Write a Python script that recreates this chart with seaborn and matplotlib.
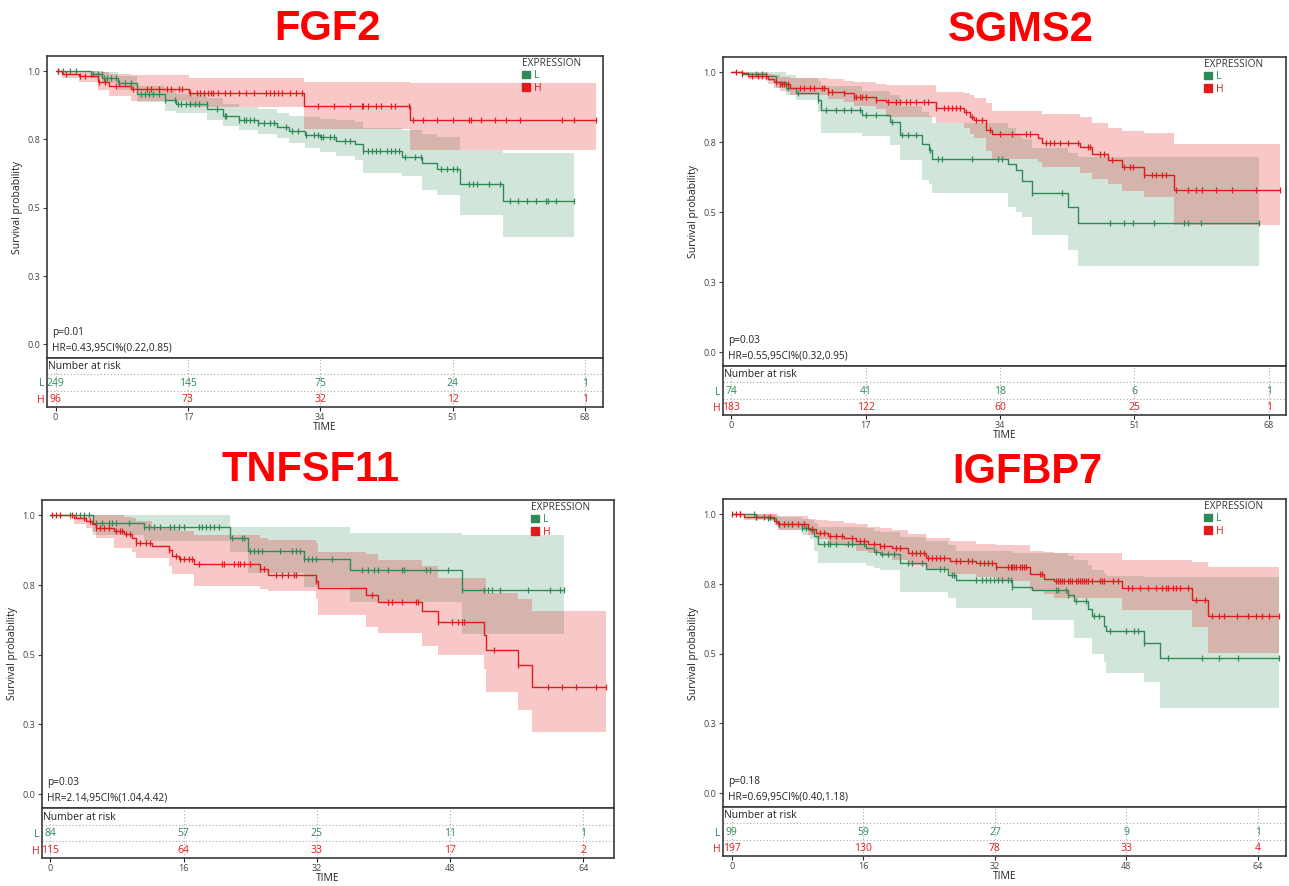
import numpy as np
import matplotlib
matplotlib.use("Agg")
import matplotlib.pyplot as plt
import matplotlib.transforms as mtransforms
from matplotlib.patches import Patch
import seaborn as sns

# ---------------- FGF2 ----------------
FGF2_L_T = [0, 4.5, 6, 8, 10.5, 14, 15.5, 19.5, 21.5, 23.5, 26, 28.5, 30, 32, 34, 36, 38.5, 39.5, 44.5, 47, 49, 52, 57.5]
FGF2_L_S = [1.0, 0.99, 0.975, 0.955, 0.915, 0.895, 0.88, 0.862, 0.835, 0.822, 0.81, 0.795, 0.78, 0.765, 0.757, 0.745, 0.733, 0.707, 0.686, 0.663, 0.643, 0.585, 0.523]
FGF2_L_LO = [1.0, 0.975, 0.955, 0.93, 0.885, 0.855, 0.845, 0.82, 0.80, 0.785, 0.77, 0.755, 0.735, 0.72, 0.705, 0.69, 0.675, 0.627, 0.615, 0.563, 0.545, 0.472, 0.393]
FGF2_L_HI = [1.0, 1.0, 0.995, 0.98, 0.945, 0.93, 0.915, 0.90, 0.88, 0.87, 0.86, 0.845, 0.835, 0.83, 0.825, 0.82, 0.815, 0.79, 0.785, 0.77, 0.76, 0.71, 0.70]
FGF2_L_CENS = [0.3, 1.0, 1.8, 2.6, 4.5, 4.8, 5.4, 5.9, 6.2, 6.6, 7.1, 7.7, 8.2, 8.9, 9.7, 11.0, 11.5, 12.0, 12.5, 13.3,
               14.0, 15.3, 15.7, 16.1, 16.8, 17.3, 17.9, 18.4, 19.4, 20.7, 21.7, 21.9, 23.5, 24.2, 24.5, 25.0, 25.5,
               26.0, 26.8, 27.6, 28.1, 29.6, 30.4, 31.1, 32.1, 33.2, 33.7, 34.1, 34.4, 35.2, 35.7, 37.2, 37.8, 39.5,
               40.1, 40.6, 41.1, 41.6, 42.6, 43.1, 43.6, 44.1, 44.9, 46.2, 46.9, 49.5, 50.3, 51.0, 51.5, 53.1, 53.6,
               54.1, 55.6, 57.1, 58.4, 59.4, 60.5, 61.7, 63.0, 63.3, 64.3, 66.6]
FGF2_H_T = [0, 0.8, 3, 5.4, 6.9, 9.7, 17.1, 31.9, 45.5]
FGF2_H_S = [1.0, 0.99, 0.98, 0.96, 0.945, 0.935, 0.921, 0.871, 0.822]
FGF2_H_LO = [1.0, 0.975, 0.96, 0.93, 0.91, 0.89, 0.87, 0.789, 0.71]
FGF2_H_HI = [1.0, 1.0, 1.0, 0.995, 0.99, 0.985, 0.975, 0.96, 0.955]
FGF2_H_CENS = [0.3, 1.3, 3.1, 3.8, 5.6, 6.4, 7.7, 9.9, 11.7, 12.2, 13.3, 14.3, 14.8, 15.8, 16.3, 17.3, 18.1, 18.6,
               19.1, 19.6, 19.9, 20.2, 20.9, 21.7, 22.4, 23.5, 24.5, 25.5, 27.0, 27.6, 28.1, 28.6, 29.1, 30.1, 30.9,
               31.6, 33.7, 35.7, 37.8, 39.3, 39.5, 40.1, 41.1, 41.8, 43.1, 43.6, 45.4, 45.9, 47.2, 49.0, 51.0, 53.1,
               53.3, 54.6, 56.4, 57.9, 59.7, 65.0, 66.6, 69.4]
FGF2_TICKS = [0, 17, 34, 51, 68]
FGF2_RISK_L = [249, 145, 75, 24, 1]
FGF2_RISK_H = [96, 73, 32, 12, 1]

# ---------------- SGMS2 ----------------
SGMS2_L_T = [0, 1.4, 4.4, 5.7, 6.9, 8.2, 11.0, 11.4, 16.5, 20.1, 21.3, 24.1, 25.0, 25.4, 35.0, 36.0, 36.8, 38.1, 42.6, 43.9]
SGMS2_L_S = [1.0, 0.995, 0.987, 0.965, 0.943, 0.925, 0.903, 0.865, 0.847, 0.823, 0.776, 0.745, 0.722, 0.692, 0.672, 0.65, 0.611, 0.567, 0.52, 0.463]
SGMS2_L_LO = [1.0, 0.99, 0.97, 0.943, 0.92, 0.90, 0.86, 0.784, 0.772, 0.74, 0.686, 0.615, 0.60, 0.567, 0.519, 0.50, 0.483, 0.418, 0.364, 0.307]
SGMS2_L_HI = [1.0, 1.0, 1.0, 1.0, 0.99, 0.98, 0.97, 0.95, 0.935, 0.92, 0.88, 0.86, 0.845, 0.82, 0.80, 0.78, 0.76, 0.73, 0.71, 0.698]
SGMS2_L_CENS = [1.4, 3.1, 3.9, 4.4, 7.2, 8.5, 11.0, 12.0, 13.3, 14.3, 15.2, 16.3, 17.1, 18.3, 20.3, 21.6, 22.4, 23.4,
                25.1, 26.2, 26.7, 30.5, 33.8, 34.3, 38.1, 41.9, 47.9, 49.7, 50.9, 53.5, 57.3, 57.8, 59.5, 66.8]
SGMS2_H_T = [0, 1.4, 2.1, 4.7, 5.4, 6.2, 7.4, 12.2, 14.3, 15.5, 18.3, 19.6, 25.9, 29.5, 30.2, 30.7, 32.2, 33.0, 38.8,
             39.3, 44.1, 45.6, 47.7, 49.4, 52.2, 56.0]
SGMS2_H_S = [1.0, 0.996, 0.988, 0.978, 0.964, 0.957, 0.943, 0.931, 0.925, 0.913, 0.903, 0.893, 0.871, 0.859, 0.841,
             0.829, 0.794, 0.778, 0.764, 0.749, 0.732, 0.707, 0.687, 0.661, 0.632, 0.581]
SGMS2_H_LO = [1.0, 0.99, 0.975, 0.96, 0.945, 0.935, 0.92, 0.905, 0.895, 0.88, 0.87, 0.84, 0.82, 0.80, 0.78, 0.765,
              0.72, 0.69, 0.68, 0.66, 0.64, 0.62, 0.60, 0.575, 0.555, 0.456]
SGMS2_H_HI = [1.0, 1.0, 1.0, 0.995, 0.99, 0.985, 0.98, 0.975, 0.97, 0.965, 0.96, 0.955, 0.93, 0.925, 0.92, 0.91,
              0.89, 0.862, 0.862, 0.85, 0.84, 0.82, 0.80, 0.79, 0.785, 0.743]
SGMS2_H_CENS = [0.6, 1.4, 2.6, 3.4, 3.9, 4.4, 5.7, 6.2, 6.4, 6.7, 7.2, 8.7, 9.2, 10.0, 10.5, 11.5, 11.7, 12.2, 12.7,
                14.3, 15.5, 15.8, 16.3, 16.5, 17.1, 18.3, 19.8, 20.8, 21.3, 22.1, 22.6, 23.4, 24.4, 24.9, 25.9, 26.9,
                27.4, 27.9, 28.4, 28.9, 29.7, 30.5, 31.0, 31.7, 32.7, 34.0, 35.5, 37.3, 37.8, 39.8, 40.3, 40.8, 41.6,
                42.6, 43.9, 45.1, 45.4, 46.7, 47.2, 48.2, 49.7, 50.5, 50.9, 52.2, 53.2, 53.7, 54.5, 55.0, 56.3, 57.8,
                58.8, 59.6, 61.3, 63.4, 66.4, 69.4]
SGMS2_TICKS = [0, 17, 34, 51, 68]
SGMS2_RISK_L = [74, 41, 18, 6, 1]
SGMS2_RISK_H = [183, 122, 60, 25, 1]

# ---------------- TNFSF11 ----------------
TNFSF11_L_T = [0, 5.1, 11.3, 21.6, 23.8, 30.5, 36.0, 49.4]
TNFSF11_L_S = [1.0, 0.971, 0.959, 0.918, 0.872, 0.842, 0.804, 0.732]
TNFSF11_L_LO = [1.0, 0.93, 0.908, 0.87, 0.792, 0.742, 0.689, 0.576]
TNFSF11_L_HI = [1.0, 1.0, 1.0, 0.958, 0.958, 0.958, 0.937, 0.931]
TNFSF11_L_CENS = [2.4, 3.1, 3.6, 4.1, 4.6, 5.5, 6.2, 7.0, 7.4, 7.9, 9.4, 11.3, 11.8, 12.5, 13.2, 14.4, 14.9, 15.4,
                  16.1, 17.8, 18.2, 18.7, 19.2, 19.7, 20.2, 21.8, 23.0, 23.3, 24.0, 24.5, 25.0, 25.4, 27.6, 29.0,
                  29.5, 30.0, 30.5, 31.0, 31.4, 31.9, 33.8, 37.4, 38.2, 38.9, 39.4, 40.6, 42.2, 42.5, 45.1, 45.6,
                  47.8, 49.4, 52.1, 52.6, 53.0, 54.0, 57.4, 60.0, 61.2, 61.7]
TNFSF11_H_T = [0, 2.9, 4.3, 5.0, 5.5, 7.7, 8.9, 9.8, 10.3, 12.2, 14.2, 14.6, 15.4, 17.3, 25.2, 26.2, 31.9, 32.2,
               37.9, 39.4, 44.6, 46.6, 52.1, 52.3, 56.2, 57.8]
TNFSF11_H_S = [1.0, 0.99, 0.98, 0.968, 0.956, 0.944, 0.932, 0.92, 0.902, 0.89, 0.876, 0.853, 0.842, 0.824, 0.808,
               0.786, 0.763, 0.738, 0.713, 0.689, 0.655, 0.617, 0.571, 0.516, 0.462, 0.383]
TNFSF11_H_LO = [1.0, 0.97, 0.955, 0.94, 0.92, 0.884, 0.884, 0.87, 0.848, 0.848, 0.82, 0.791, 0.791, 0.747, 0.735,
                0.729, 0.70, 0.643, 0.60, 0.579, 0.532, 0.50, 0.45, 0.367, 0.302, 0.221]
TNFSF11_H_HI = [1.0, 1.0, 1.0, 1.0, 1.0, 1.0, 0.995, 0.99, 0.98, 0.956, 0.956, 0.95, 0.945, 0.93, 0.92, 0.91, 0.90,
                0.87, 0.86, 0.84, 0.82, 0.775, 0.774, 0.72, 0.70, 0.657]
TNFSF11_H_CENS = [0.2, 0.7, 1.2, 2.6, 4.1, 4.8, 5.5, 6.0, 6.5, 7.0, 7.9, 8.4, 8.6, 9.1, 9.6, 10.3, 10.8, 11.5, 12.0,
                  14.2, 15.1, 15.6, 16.1, 16.6, 17.0, 17.8, 20.6, 20.9, 22.1, 22.6, 22.8, 23.3, 24.0, 25.2, 25.7,
                  27.1, 27.8, 28.6, 29.3, 29.5, 31.9, 38.6, 40.6, 41.0, 42.2, 43.9, 44.2, 46.6, 48.2, 49.0, 49.4,
                  49.7, 53.3, 56.2, 59.8, 61.4, 63.1, 65.5, 66.7]
TNFSF11_TICKS = [0, 16, 32, 48, 64]
TNFSF11_RISK_L = [84, 57, 25, 11, 1]
TNFSF11_RISK_H = [115, 64, 33, 17, 2]

# ---------------- IGFBP7 ----------------
IGFBP7_L_T = [0, 2.9, 4.4, 5.4, 5.8, 8.5, 9.5, 10.0, 10.5, 16.3, 17.3, 18.0, 20.4, 23.6, 26.3, 27.3, 34.1, 36.5,
              40.9, 41.6, 43.3, 43.8, 45.3, 45.5, 50.1, 52.1]
IGFBP7_L_S = [1.0, 0.992, 0.986, 0.97, 0.964, 0.952, 0.943, 0.922, 0.892, 0.88, 0.865, 0.857, 0.827, 0.805, 0.783,
              0.764, 0.74, 0.728, 0.71, 0.688, 0.66, 0.636, 0.60, 0.582, 0.54, 0.486]
IGFBP7_L_LO = [1.0, 0.985, 0.975, 0.955, 0.945, 0.925, 0.91, 0.87, 0.827, 0.815, 0.806, 0.80, 0.72, 0.72, 0.70,
               0.663, 0.663, 0.62, 0.62, 0.558, 0.558, 0.498, 0.47, 0.432, 0.40, 0.305]
IGFBP7_L_HI = [1.0, 1.0, 1.0, 0.995, 0.99, 0.985, 0.98, 0.97, 0.955, 0.95, 0.94, 0.935, 0.92, 0.905, 0.89, 0.87,
               0.86, 0.86, 0.85, 0.835, 0.82, 0.80, 0.79, 0.78, 0.775, 0.775]
IGFBP7_L_CENS = [1.0, 2.7, 2.9, 4.4, 5.8, 6.3, 6.8, 7.3, 8.5, 9.0, 9.7, 11.2, 11.7, 11.9, 12.7, 14.1, 14.6, 16.1,
                 17.5, 18.3, 19.0, 19.7, 21.4, 21.9, 23.1, 25.3, 25.8, 26.8, 27.0, 29.7, 30.4, 30.9, 31.4, 31.9,
                 32.4, 32.9, 33.6, 33.9, 34.1, 39.4, 39.7, 40.7, 40.9, 41.9, 43.1, 44.1, 44.6, 46.0, 47.9, 48.9,
                 49.4, 50.1, 53.1, 57.2, 59.2, 61.6, 66.5]
IGFBP7_H_T = [0, 1.5, 5.1, 5.6, 9.3, 10.2, 11.7, 13.6, 15.1, 16.6, 18.0, 19.5, 21.4, 23.6, 26.5, 29.7, 32.1, 36.3,
              38.0, 39.2, 47.5, 56.0, 57.9]
IGFBP7_H_S = [1.0, 0.99, 0.976, 0.964, 0.946, 0.934, 0.922, 0.916, 0.904, 0.892, 0.888, 0.878, 0.863, 0.845, 0.832,
              0.826, 0.812, 0.787, 0.769, 0.76, 0.736, 0.694, 0.634]
IGFBP7_H_LO = [1.0, 0.98, 0.96, 0.945, 0.925, 0.91, 0.895, 0.885, 0.87, 0.86, 0.85, 0.835, 0.82, 0.80, 0.785, 0.775,
               0.76, 0.73, 0.715, 0.70, 0.657, 0.594, 0.504]
IGFBP7_H_HI = [1.0, 1.0, 1.0, 0.995, 0.985, 0.98, 0.975, 0.97, 0.965, 0.955, 0.95, 0.945, 0.93, 0.915, 0.905, 0.895,
               0.89, 0.87, 0.865, 0.86, 0.835, 0.83, 0.81]
IGFBP7_H_CENS = [0.0, 0.5, 1.0, 2.9, 3.9, 4.6, 5.8, 6.3, 7.3, 8.0, 8.8, 9.7, 10.7, 11.2, 11.9, 12.7, 13.4, 14.6,
                 15.6, 16.1, 17.3, 18.0, 18.5, 20.0, 20.4, 21.9, 22.4, 22.9, 23.4, 23.9, 24.3, 24.8, 25.3, 25.8,
                 27.3, 27.8, 28.7, 29.2, 30.2, 30.7, 31.2, 31.6, 32.1, 33.6, 33.9, 34.1, 34.3, 34.6, 35.1, 35.3,
                 35.5, 35.8, 37.5, 37.7, 39.4, 39.7, 39.9, 40.2, 40.4, 40.9, 41.1, 41.4, 41.9, 42.1, 42.4, 42.6,
                 42.8, 43.1, 43.3, 43.8, 44.8, 45.0, 45.3, 46.3, 47.0, 48.2, 48.7, 49.7, 50.6, 51.6, 52.3, 52.8,
                 53.1, 53.6, 54.0, 54.5, 55.5, 56.5, 57.5, 58.4, 59.2, 59.9, 61.4, 62.8, 63.8, 64.5, 65.3, 66.5]
IGFBP7_TICKS = [0, 16, 32, 48, 64]
IGFBP7_RISK_L = [99, 59, 27, 9, 1]
IGFBP7_RISK_H = [197, 130, 78, 33, 4]

GENES = ["FGF2", "SGMS2", "TNFSF11", "IGFBP7"]
P_TEXT = ["p=0.01", "p=0.03", "p=0.03", "p=0.18"]
HR_TEXT = ["HR=0.43,95CI%(0.22,0.85)", "HR=0.55,95CI%(0.32,0.95)",
           "HR=2.14,95CI%(1.04,4.42)", "HR=0.69,95CI%(0.40,1.18)"]

GREEN = "#2E8B57"
RED = "#E31A1C"
SPINE = "#3a3a3a"

sns.set_style("white")
plt.rcParams["font.family"] = ["Open Sans", "DejaVu Sans"]


def surv_at(times, surv, t):
    idx = np.searchsorted(np.asarray(times), np.asarray(t), side="right") - 1
    return np.asarray(surv)[idx]


def draw_band(ax, t, lo, hi, cens, color, alpha):
    end = max(cens)
    tt = np.append(t, end)
    ax.fill_between(tt, np.append(lo, lo[-1]), np.append(hi, hi[-1]), step="post",
                    color=color, alpha=alpha, lw=0)


def draw_curve(ax, t, s, cens, color):
    end = max(cens)
    tt = np.append(t, end)
    ss = np.append(s, s[-1])
    sns.lineplot(x=tt, y=ss, drawstyle="steps-post", color=color, lw=1.0, ax=ax,
                 estimator=None, sort=False)
    ax.plot(cens, surv_at(t, s, cens), ls="none", marker="|", ms=4.5, mew=0.9, color=color)


def panel(ax, tab, i, xlim, ticks, L, H, risk_l, risk_h):
    draw_band(ax, L[0], L[2], L[3], L[4], GREEN, 0.22)
    draw_band(ax, H[0], H[2], H[3], H[4], RED, 0.24)
    draw_curve(ax, L[0], L[1], L[4], GREEN)
    draw_curve(ax, H[0], H[1], H[4], RED)

    ax.set_xlim(xlim)
    ax.set_ylim(-0.05, 1.055)
    ax.set_xticks([])
    ax.set_yticks([0, 0.25, 0.5, 0.75, 1.0])
    ax.set_yticklabels(["0.0", "0.3", "0.5", "0.8", "1.0"])
    ax.tick_params(axis="y", left=True, length=3, width=0.8, labelsize=6.5, colors="#444", pad=2)
    ax.set_ylabel("Survival probability", fontsize=7.5, color="#222", labelpad=3)
    ax.set_xlabel("")
    for sp in ax.spines.values():
        sp.set_color(SPINE)
        sp.set_linewidth(1.2)

    ax.text(0.009, 0.083, P_TEXT[i], transform=ax.transAxes, fontsize=7.3, color="#222", va="center")
    ax.text(0.009, 0.033, HR_TEXT[i], transform=ax.transAxes, fontsize=7.3, color="#222", va="center")

    leg = ax.legend(handles=[Patch(color=GREEN, label="L"), Patch(color=RED, label="H")],
                    title="EXPRESSION", loc="upper left", bbox_to_anchor=(0.855, 0.995),
                    frameon=False, fontsize=7.5, title_fontsize=7.3, handlelength=0.75,
                    handleheight=0.75, handletextpad=0.4, borderaxespad=0, borderpad=0,
                    labelspacing=0.15, alignment="left")
    leg.get_title().set_color("#333")
    for txt, c in zip(leg.get_texts(), [GREEN, RED]):
        txt.set_color(c)

    # risk table
    tab.set_xlim(xlim)
    tab.set_ylim(0, 3)
    tab.set_xticks(ticks)
    tab.set_xticklabels([str(v) for v in ticks], fontsize=6.5, color="#444")
    tab.tick_params(axis="x", bottom=True, length=3, width=0.8, pad=1)
    tab.set_yticks([1.5, 0.5])
    tab.set_yticklabels(["L", "H"], fontsize=7.5)
    tab.tick_params(axis="y", left=False, length=0, pad=2)
    for lab, c in zip(tab.get_yticklabels(), [GREEN, RED]):
        lab.set_color(c)
    tab.set_xlabel("TIME", fontsize=7.5, color="#222", labelpad=0)
    for y in (1, 2):
        tab.axhline(y, ls=(0, (1, 2)), color="#aaaaaa", lw=0.8)
    for tk in ticks:
        tab.axvline(tk, ls=(0, (1, 2)), color="#aaaaaa", lw=0.8)
    trans = mtransforms.blended_transform_factory(tab.transAxes, tab.transData)
    tab.text(0.002, 2.45, "Number at risk", transform=trans, fontsize=7.5, color="#222",
             ha="left", va="center")
    for tk, nl, nh in zip(ticks, risk_l, risk_h):
        tab.text(tk, 1.45, str(nl), ha="center", va="center", fontsize=7.5, color=GREEN)
        tab.text(tk, 0.45, str(nh), ha="center", va="center", fontsize=7.5, color=RED)
    for sp in tab.spines.values():
        sp.set_color(SPINE)
        sp.set_linewidth(1.2)


fig = plt.figure(figsize=(12.89, 8.86), dpi=100)

W, Hpx = 1289.0, 886.0


def box(l, t, r, b):
    return [l / W, 1 - b / Hpx, (r - l) / W, (b - t) / Hpx]


layout = [
    # main box, table box, xlim, title center
    ((47, 56, 603, 358), (47, 358, 603, 407), (-1.1, 70.3), (327, 29)),
    ((723, 57, 1286, 366), (723, 366, 1286, 415), (-1.05, 70.2), (1021, 30)),
    ((42, 500, 614, 808), (42, 808, 614, 858), (-1.0, 67.7), (311, 470)),
    ((723, 499, 1286, 807), (723, 807, 1286, 856), (-1.07, 67.4), (1027, 472)),
]

data = [
    ((FGF2_L_T, FGF2_L_S, FGF2_L_LO, FGF2_L_HI, FGF2_L_CENS),
     (FGF2_H_T, FGF2_H_S, FGF2_H_LO, FGF2_H_HI, FGF2_H_CENS), FGF2_TICKS, FGF2_RISK_L, FGF2_RISK_H),
    ((SGMS2_L_T, SGMS2_L_S, SGMS2_L_LO, SGMS2_L_HI, SGMS2_L_CENS),
     (SGMS2_H_T, SGMS2_H_S, SGMS2_H_LO, SGMS2_H_HI, SGMS2_H_CENS), SGMS2_TICKS, SGMS2_RISK_L, SGMS2_RISK_H),
    ((TNFSF11_L_T, TNFSF11_L_S, TNFSF11_L_LO, TNFSF11_L_HI, TNFSF11_L_CENS),
     (TNFSF11_H_T, TNFSF11_H_S, TNFSF11_H_LO, TNFSF11_H_HI, TNFSF11_H_CENS), TNFSF11_TICKS, TNFSF11_RISK_L,
     TNFSF11_RISK_H),
    ((IGFBP7_L_T, IGFBP7_L_S, IGFBP7_L_LO, IGFBP7_L_HI, IGFBP7_L_CENS),
     (IGFBP7_H_T, IGFBP7_H_S, IGFBP7_H_LO, IGFBP7_H_HI, IGFBP7_H_CENS), IGFBP7_TICKS, IGFBP7_RISK_L,
     IGFBP7_RISK_H),
]

for i, ((mb, tb, xlim, tc), (L, H, ticks, rl, rh)) in enumerate(zip(layout, data)):
    ax = fig.add_axes(box(*mb))
    tab = fig.add_axes(box(*tb))
    panel(ax, tab, i, xlim, ticks, L, H, rl, rh)
    fig.text(tc[0] / W, 1 - tc[1] / Hpx, GENES[i], ha="center", va="center",
             fontsize=30, fontweight="bold", color="#FF0000", family=["Liberation Sans", "DejaVu Sans"])

fig.savefig("out.png", dpi=100, facecolor="white")
